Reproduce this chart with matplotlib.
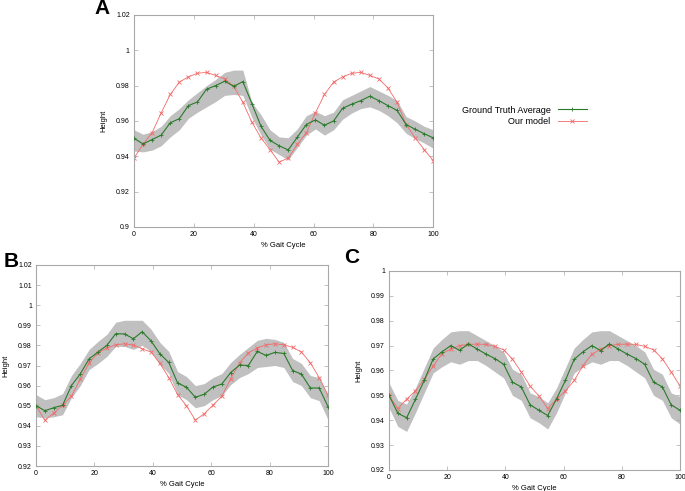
#!/usr/bin/env python3
"""Height over the gait cycle: ground truth average (with spread band) vs. our model, three subjects."""

from __future__ import annotations

import matplotlib

matplotlib.use("Agg")
import matplotlib.pyplot as plt
import numpy as np

plt.rcParams["font.family"] = ["Liberation Sans", "DejaVu Sans"]

# 34 samples over the gait cycle (0..100 %)
GAIT_PCT = np.linspace(0, 100, 34)

# --- panel A -------------------------------------------------------------
A_TRUTH = [0.9502, 0.947, 0.9495, 0.952, 0.959, 0.9613, 0.9687, 0.9708, 0.978, 0.980,
           0.9825, 0.9796, 0.9823, 0.9698, 0.957, 0.949, 0.946, 0.9436, 0.9508, 0.958,
           0.9606, 0.9576, 0.960, 0.9672, 0.9695, 0.9715, 0.974, 0.9715, 0.9687, 0.966,
           0.958, 0.9553, 0.9528, 0.9504]
A_UPPER = [0.955, 0.9525, 0.954, 0.957, 0.963, 0.967, 0.972, 0.976, 0.980, 0.9835,
           0.9875, 0.9888, 0.9888, 0.9705, 0.9635, 0.955, 0.951, 0.9505, 0.9555, 0.963,
           0.9655, 0.963, 0.965, 0.972, 0.9745, 0.977, 0.9795, 0.977, 0.9745, 0.9715,
           0.9625, 0.960, 0.957, 0.955]
A_LOWER = [0.943, 0.9425, 0.9435, 0.946, 0.951, 0.955, 0.9615, 0.965, 0.968, 0.971,
           0.9745, 0.975, 0.9745, 0.962, 0.952, 0.944, 0.941, 0.938, 0.945, 0.952,
           0.9555, 0.952, 0.955, 0.961, 0.9645, 0.967, 0.968, 0.966, 0.963, 0.959,
           0.953, 0.950, 0.9475, 0.9445]
A_MODEL = [0.939, 0.9468, 0.9534, 0.9646, 0.975, 0.982, 0.985, 0.987, 0.9875, 0.9858,
           0.9838, 0.9796, 0.9706, 0.9593, 0.9504, 0.9438, 0.9367, 0.939, 0.9467, 0.9533,
           0.9646, 0.975, 0.982, 0.985, 0.987, 0.9875, 0.9858, 0.9838, 0.9787, 0.9706,
           0.958, 0.9504, 0.9438, 0.9375]

# --- panel B -------------------------------------------------------------
B_TRUTH = [0.950, 0.9475, 0.949, 0.9502, 0.960, 0.9658, 0.9733, 0.9767, 0.980, 0.9858,
           0.9857, 0.9833, 0.9868, 0.9822, 0.9758, 0.9715, 0.9613, 0.9592, 0.9542, 0.9557,
           0.9593, 0.9608, 0.9665, 0.9702, 0.970, 0.977, 0.975, 0.9765, 0.976, 0.9675,
           0.9657, 0.9588, 0.9588, 0.9495]
B_UPPER = [0.9555, 0.953, 0.954, 0.956, 0.965, 0.971, 0.978, 0.982, 0.9855, 0.9915,
           0.9925, 0.9925, 0.9925, 0.988, 0.9815, 0.977, 0.967, 0.9645, 0.960, 0.961,
           0.964, 0.966, 0.9715, 0.9755, 0.979, 0.9825, 0.9835, 0.983, 0.9815, 0.9735,
           0.971, 0.965, 0.964, 0.955]
B_LOWER = [0.9445, 0.944, 0.9445, 0.9455, 0.954, 0.960, 0.968, 0.971, 0.9745, 0.9795,
           0.9795, 0.978, 0.980, 0.977, 0.9705, 0.966, 0.9555, 0.953, 0.949, 0.950,
           0.953, 0.955, 0.9605, 0.964, 0.966, 0.969, 0.9695, 0.970, 0.969, 0.962,
           0.960, 0.954, 0.9525, 0.943]
B_MODEL = [0.950, 0.9428, 0.9463, 0.9503, 0.9547, 0.9632, 0.9713, 0.9763, 0.9787, 0.9803,
           0.9808, 0.9802, 0.9783, 0.9767, 0.971, 0.964, 0.9555, 0.950, 0.9428, 0.946,
           0.9503, 0.9547, 0.9635, 0.9713, 0.9763, 0.9787, 0.9803, 0.9808, 0.9803, 0.979,
           0.9767, 0.9713, 0.964, 0.9552]

# --- panel C -------------------------------------------------------------
C_TRUTH = [0.950, 0.9428, 0.941, 0.9484, 0.956, 0.9646, 0.9675, 0.970, 0.9681, 0.9707,
           0.9686, 0.9666, 0.9648, 0.9625, 0.9553, 0.9534, 0.9462, 0.944, 0.9419, 0.9486,
           0.956, 0.9645, 0.9675, 0.970, 0.968, 0.9707, 0.9686, 0.9666, 0.9648, 0.9625,
           0.9553, 0.9534, 0.9462, 0.944]
C_UPPER = [0.955, 0.948, 0.9465, 0.953, 0.961, 0.969, 0.9725, 0.9755, 0.976, 0.976,
           0.974, 0.972, 0.970, 0.9675, 0.9605, 0.9585, 0.951, 0.9495, 0.947, 0.953,
           0.961, 0.969, 0.9725, 0.9755, 0.976, 0.976, 0.974, 0.972, 0.970, 0.9675,
           0.9605, 0.9585, 0.951, 0.9495]
C_LOWER = [0.945, 0.9375, 0.9355, 0.943, 0.951, 0.959, 0.9615, 0.9635, 0.9625, 0.964,
           0.964, 0.962, 0.9595, 0.957, 0.950, 0.948, 0.941, 0.939, 0.9365, 0.943,
           0.951, 0.959, 0.9615, 0.9635, 0.9625, 0.964, 0.964, 0.962, 0.9595, 0.957,
           0.950, 0.948, 0.941, 0.9385]
C_MODEL = [0.950, 0.9447, 0.9485, 0.9518, 0.9565, 0.9617, 0.9668, 0.9686, 0.970, 0.9705,
           0.9706, 0.9705, 0.9697, 0.9683, 0.9646, 0.9594, 0.9537, 0.9498, 0.9447, 0.9485,
           0.9517, 0.956, 0.962, 0.9665, 0.9686, 0.970, 0.9705, 0.9706, 0.9705, 0.9697,
           0.9683, 0.9647, 0.9594, 0.9538]

X_TICKS = [0, 20, 40, 60, 80, 100]
A_YTICKS = [0.9, 0.92, 0.94, 0.96, 0.98, 1.0, 1.02]
B_YTICKS = [0.92, 0.93, 0.94, 0.95, 0.96, 0.97, 0.98, 0.99, 1.0, 1.01, 1.02]
C_YTICKS = [0.92, 0.93, 0.94, 0.95, 0.96, 0.97, 0.98, 0.99, 1.0]

GREEN = "#2a7a2a"
RED = "#f26a6a"
BAND = "#c0c0c0"
FRAME = "#a8a8a8"


def fmt(v: float) -> str:
    return f"{v:g}"


def draw_panel(ax, truth, upper, lower, model, yticks, letter, letter_xy):
    ax.fill_between(GAIT_PCT, lower, upper, color=BAND, linewidth=0, zorder=1)
    ax.plot(GAIT_PCT, truth, color=GREEN, lw=0.8, marker="+", ms=2.5, mew=0.6,
            label="Ground Truth Average", zorder=3)
    ax.plot(GAIT_PCT, model, color=RED, lw=0.6, marker="x", ms=2.5, mew=0.6,
            label="Our model", zorder=2)

    ax.set_xlim(0, 100)
    ax.set_ylim(yticks[0], yticks[-1])
    ax.set_xticks(X_TICKS)
    ax.set_xticklabels([fmt(t) for t in X_TICKS])
    ax.set_yticks(yticks)
    ax.set_yticklabels([fmt(t) for t in yticks])
    ax.tick_params(direction="in", top=True, right=True, length=3, width=0.5,
                   color=FRAME, labelsize=5, pad=3)
    for spine in ax.spines.values():
        spine.set_color(FRAME)
        spine.set_linewidth(0.8)
    ax.set_xlabel("% Gait Cycle", fontsize=5.5, labelpad=3)
    ax.set_ylabel("Height", fontsize=5.5, labelpad=6)
    ax.figure.text(*letter_xy, letter, fontsize=15, fontweight="bold", ha="left", va="center")


def main() -> int:
    fig = plt.figure(figsize=(6.85, 4.91), dpi=100)
    ax_a = fig.add_axes((0.1956, 0.5377, 0.437, 0.4318))
    ax_b = fig.add_axes((0.0526, 0.0509, 0.4263, 0.4094))
    ax_c = fig.add_axes((0.5679, 0.0428, 0.4248, 0.4053))

    draw_panel(ax_a, A_TRUTH, A_UPPER, A_LOWER, A_MODEL, A_YTICKS, "A", (0.138, 0.982))
    draw_panel(ax_b, B_TRUTH, B_UPPER, B_LOWER, B_MODEL, B_YTICKS, "B", (0.006, 0.467))
    draw_panel(ax_c, C_TRUTH, C_UPPER, C_LOWER, C_MODEL, C_YTICKS, "C", (0.503, 0.475))

    handles, labels = ax_a.get_legend_handles_labels()
    fig.legend(handles, labels, loc="center left", bbox_to_anchor=(0.662, 0.764),
               frameon=False, markerfirst=False, fontsize=6.5, handlelength=3.2,
               labelspacing=0.3, handletextpad=0.8)

    fig.savefig("out.png", dpi=100)
    plt.close(fig)
    return 0


if __name__ == "__main__":
    raise SystemExit(main())
